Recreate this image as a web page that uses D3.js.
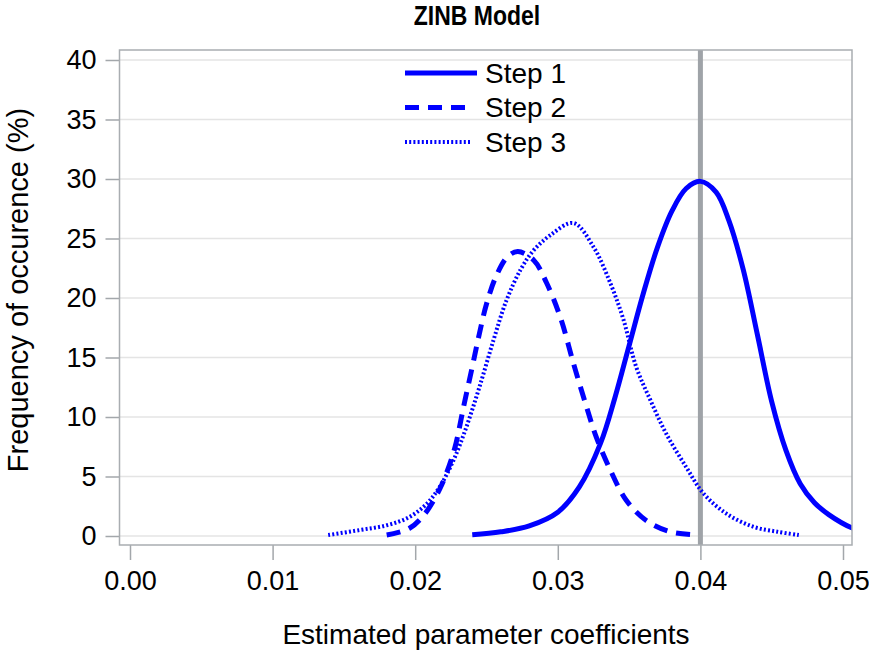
<!DOCTYPE html>
<html>
<head>
<meta charset="utf-8">
<script src="https://cdn.jsdelivr.net/npm/d3@7"></script>
<style>
body { margin: 0; background: #fff; }
text { font-family: "Liberation Sans", Arial, sans-serif; fill: #000; }
</style>
</head>
<body>
<svg id="chart" width="869" height="651"></svg>
<script>
// values: [coefficient, frequency %]
var step1 = [[0.0240, 0.1], [0.0260, 0.35], [0.0280, 0.85], [0.0300, 2.0], [0.0315, 4.1], [0.0330, 7.8],
    [0.0340, 11.6], [0.0350, 16.0], [0.0360, 20.4], [0.0370, 24.3], [0.0380, 27.3], [0.0390, 29.2],
    [0.0400, 29.8], [0.0411, 28.9], [0.0420, 26.5], [0.0430, 22.4], [0.0440, 16.9], [0.0450, 11.3],
    [0.0460, 7.2], [0.0470, 4.4], [0.0480, 2.8], [0.0490, 1.8], [0.0506, 0.7], [0.0515, 0.4]];
var step2 = [[0.0180, 0.08], [0.0196, 0.65], [0.0207, 1.9], [0.0217, 3.9], [0.0222, 5.3], [0.0228, 7.5],
    [0.0234, 10.9], [0.0240, 14.2], [0.0245, 17.0], [0.0250, 19.5], [0.0257, 21.9], [0.0265, 23.5],
    [0.0272, 23.9], [0.0283, 23.2], [0.0292, 21.3], [0.0302, 18.3], [0.0311, 14.5], [0.0320, 10.9],
    [0.0327, 8.3], [0.0337, 5.5], [0.0348, 3.0], [0.0362, 1.3], [0.0379, 0.35], [0.0399, 0.08]];
var step3 = [[0.0139, 0.08], [0.0161, 0.5], [0.0180, 0.9], [0.0196, 1.6], [0.0208, 2.7], [0.0217, 4.1],
    [0.0227, 6.4], [0.0236, 9.2], [0.0245, 12.5], [0.0255, 16.5], [0.0264, 19.8], [0.0274, 22.4],
    [0.0283, 24.0], [0.0295, 25.3], [0.0311, 26.3], [0.0325, 24.3], [0.0337, 21.2], [0.0346, 18.2],
    [0.0355, 14.2], [0.0365, 11.4], [0.0376, 8.6], [0.0390, 5.8], [0.0402, 3.6], [0.0418, 1.9],
    [0.0437, 0.78], [0.0454, 0.36], [0.0469, 0.08]];
var seriesNames = ["Step 1", "Step 2", "Step 3"];
var xTicks = [0, 0.01, 0.02, 0.03, 0.04, 0.05];
var yTicks = [0, 5, 10, 15, 20, 25, 30, 35, 40];
var refLine = 0.04;

var svg = d3.select("#chart");
var frame = {left: 119.5, right: 852, top: 50, bottom: 545};

var x = d3.scaleLinear().domain([0, 0.05]).range([130, 843]);
var y = d3.scaleLinear().domain([0, 40]).range([536, 60]);

svg.append("defs").append("clipPath").attr("id", "plotclip")
    .append("rect")
    .attr("x", frame.left).attr("y", frame.top)
    .attr("width", frame.right - frame.left).attr("height", frame.bottom - frame.top);

// grid lines
svg.append("g").selectAll("line")
    .data(yTicks)
    .enter()
    .append("line")
    .attr("x1", frame.left).attr("x2", frame.right)
    .attr("y1", function (d) {return y(d);})
    .attr("y2", function (d) {return y(d);})
    .attr("stroke", "#e4e4e4")
    .attr("stroke-width", 1.5);

// y axis (ticks outside frame)
var yAxis = svg.append("g")
    .attr("transform", "translate(" + frame.left + ",0)")
    .call(d3.axisLeft(y).tickValues(yTicks).tickSize(14).tickPadding(9));
yAxis.select(".domain").remove();
yAxis.selectAll(".tick line").attr("stroke", "#a3a7ab").attr("stroke-width", 1.5);
yAxis.selectAll(".tick text")
    .style("font-size", "27px")
    .style("font-family", "'Liberation Sans', Arial, sans-serif")
    .attr("fill", "#000");

// x axis
var xAxis = svg.append("g")
    .attr("transform", "translate(0," + frame.bottom + ")")
    .call(d3.axisBottom(x).tickValues(xTicks).tickFormat(d3.format(".2f")).tickSize(15).tickPadding(11));
xAxis.select(".domain").remove();
xAxis.selectAll(".tick line").attr("stroke", "#a3a7ab").attr("stroke-width", 1.5);
xAxis.selectAll(".tick text")
    .style("font-size", "27px")
    .style("font-family", "'Liberation Sans', Arial, sans-serif")
    .attr("fill", "#000");

// reference line
svg.append("line")
    .attr("x1", x(refLine)).attr("x2", x(refLine))
    .attr("y1", frame.top).attr("y2", frame.bottom)
    .attr("stroke", "#9fa3a8")
    .attr("stroke-width", 5);

// curves
var line = d3.line()
    .x(function (d) {return x(d[0]);})
    .y(function (d) {return y(d[1]);})
    .curve(d3.curveCatmullRom.alpha(0.5));

var styles = [
    {data: step1, width: 5, dash: null},
    {data: step2, width: 5, dash: "14,9"},
    {data: step3, width: 4, dash: "2,2.2"}
];

svg.append("g").attr("clip-path", "url(#plotclip)")
    .selectAll("path")
    .data(styles)
    .enter()
    .append("path")
    .attr("d", function (d) {return line(d.data);})
    .attr("fill", "none")
    .attr("stroke", "#0000ff")
    .attr("stroke-width", function (d) {return d.width;})
    .attr("stroke-dasharray", function (d) {return d.dash;});

// frame
svg.append("rect")
    .attr("x", frame.left).attr("y", frame.top)
    .attr("width", frame.right - frame.left).attr("height", frame.bottom - frame.top)
    .attr("fill", "none")
    .attr("stroke", "#a9adb1")
    .attr("stroke-width", 1.5);

// legend
var legend = svg.append("g").selectAll("g")
    .data(styles)
    .enter()
    .append("g")
    .attr("transform", function (d, i) {return "translate(0," + (73 + i * 34.5) + ")";});
legend.append("line")
    .attr("x1", 405).attr("x2", function (d, i) {return i == 0 ? 477 : (i == 1 ? 467 : 472);})
    .attr("y1", 0).attr("y2", 0)
    .attr("stroke", "#0000ff")
    .attr("stroke-width", function (d) {return d.width;})
    .attr("stroke-dasharray", function (d) {return d.dash;});
legend.append("text")
    .attr("x", 485)
    .attr("dy", "0.35em")
    .style("font-size", "28px")
    .text(function (d, i) {return seriesNames[i];});

// title and axis labels
svg.append("text")
    .attr("transform", "translate(477,25) scale(1,1.2)")
    .attr("text-anchor", "middle")
    .style("font-size", "23px")
    .style("font-weight", "bold")
    .text("ZINB Model");
svg.append("text")
    .attr("x", 486).attr("y", 644)
    .attr("text-anchor", "middle")
    .style("font-size", "28px")
    .text("Estimated parameter coefficients");
svg.append("text")
    .attr("transform", "translate(28,290) rotate(-90)")
    .attr("text-anchor", "middle")
    .style("font-size", "29px")
    .text("Frequency of occurence (%)");
</script>
</body>
</html>
